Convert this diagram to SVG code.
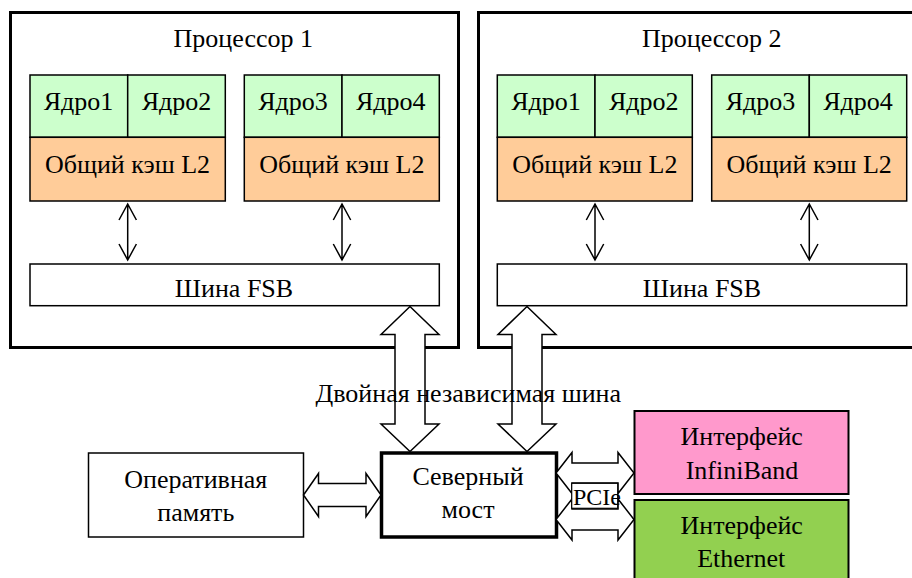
<svg xmlns="http://www.w3.org/2000/svg" width="912" height="578" viewBox="0 0 912 578">
<style>
text{font-family:"Liberation Serif","Times New Roman",serif;font-size:26px;fill:#000;text-anchor:middle}
.frame{fill:none;stroke:#000;stroke-width:3}
.core{fill:#CCFFCC;stroke:#000;stroke-width:1.5}
.cache{fill:#FFCC99;stroke:#000;stroke-width:1.5}
.box{fill:#fff;stroke:#000;stroke-width:1.5}
.big{fill:#fff;stroke:#000;stroke-width:1.5;stroke-linejoin:miter}
.thin{fill:none;stroke:#000;stroke-width:1.5}
</style>
<rect width="912" height="578" fill="#fff"/>
<g id="cpu1">
<rect class="frame" x="10.5" y="12.5" width="448" height="335"/>
<text x="243.3" y="47">Процессор 1</text>
</g>
<g id="cpu2">
<rect class="frame" x="478.5" y="12.5" width="450" height="335"/>
<text x="711.7" y="47">Процессор 2</text>
</g>
<g id="cpu1-core1"><rect class="core" x="30" y="75" width="97.7" height="62.3"/><text x="78.5" y="110">Ядро1</text></g>
<g id="cpu1-core2"><rect class="core" x="127.7" y="75" width="97.6" height="62.3"/><text x="176.5" y="110">Ядро2</text></g>
<g id="cpu1-cache1"><rect class="cache" x="30" y="137.3" width="195.3" height="63.7"/><text x="127.5" y="173">Общий кэш L2</text></g>
<g id="cpu1-core3"><rect class="core" x="244.3" y="75" width="97.7" height="62.3"/><text x="293" y="110">Ядро3</text></g>
<g id="cpu1-core4"><rect class="core" x="342" y="75" width="97.3" height="62.3"/><text x="390.7" y="110">Ядро4</text></g>
<g id="cpu1-cache2"><rect class="cache" x="244.3" y="137.3" width="195" height="63.7"/><text x="341.8" y="173">Общий кэш L2</text></g>
<g id="cpu1-fsb"><rect class="box" x="30" y="264" width="409.3" height="41.7"/><text x="234" y="296.5">Шина FSB</text></g>
<g id="cpu2-core1"><rect class="core" x="497.3" y="75" width="97.7" height="62.3"/><text x="546" y="110">Ядро1</text></g>
<g id="cpu2-core2"><rect class="core" x="595" y="75" width="97.3" height="62.3"/><text x="643.7" y="110">Ядро2</text></g>
<g id="cpu2-cache1"><rect class="cache" x="497.3" y="137.3" width="195" height="63.7"/><text x="594.8" y="173">Общий кэш L2</text></g>
<g id="cpu2-core3"><rect class="core" x="711.7" y="75" width="97.6" height="62.3"/><text x="760.5" y="110">Ядро3</text></g>
<g id="cpu2-core4"><rect class="core" x="809.3" y="75" width="97.4" height="62.3"/><text x="858" y="110">Ядро4</text></g>
<g id="cpu2-cache2"><rect class="cache" x="711.7" y="137.3" width="195" height="63.7"/><text x="809.2" y="173">Общий кэш L2</text></g>
<g id="cpu2-fsb"><rect class="box" x="497.3" y="264" width="409.4" height="41.7"/><text x="702" y="296.5">Шина FSB</text></g>
<g id="memory"><rect class="box" x="88.5" y="453" width="215" height="84"/><text x="195.8" y="488">Оперативная</text><text x="195.8" y="521">память</text></g>
<g id="northbridge"><rect x="381.5" y="453" width="175" height="84" fill="#fff" stroke="#000" stroke-width="3.5"/><text x="468" y="485">Северный</text><text x="468" y="518">мост</text></g>
<g id="infiniband"><rect x="634.5" y="411" width="214" height="83" fill="#FF99CC" stroke="#000" stroke-width="2"/><text x="741.7" y="445">Интерфейс</text><text x="742" y="478.5">InfiniBand</text></g>
<g id="ethernet"><rect x="634.5" y="500" width="214" height="90" fill="#92D050" stroke="#000" stroke-width="2"/><text x="741.7" y="533.5">Интерфейс</text><text x="741.2" y="567">Ethernet</text></g>
<g id="connectors">
<path class="thin" d="M127.7,204V260M119,220L127.7,204L136.4,220M119,244L127.7,260L136.4,244"/>
<path class="thin" d="M342,204V260M333.3,220L342,204L350.7,220M333.3,244L342,260L350.7,244"/>
<path class="thin" d="M595,204V260M586.3,220L595,204L603.7,220M586.3,244L595,260L603.7,244"/>
<path class="thin" d="M809.3,204V260M800.6,220L809.3,204L818,220M800.6,244L809.3,260L818,244"/>
<polygon class="big" points="410,306.5 439,334.5 425,334.5 425,424 439,424 410,451.5 381,424 395,424 395,334.5 381,334.5"/>
<polygon class="big" points="527,306.5 556,334.5 542,334.5 542,424 556,424 527,451.5 498,424 512,424 512,334.5 498,334.5"/>
<polygon class="big" points="303.5,495 318.5,473.5 318.5,483.5 366,483.5 366,473.5 381,495 366,516.5 366,506.5 318.5,506.5 318.5,516.5"/>
<polygon class="big" points="556,473 572,452.5 572,463 618,463 618,452.5 634,473 618,493.5 618,483 572,483 572,493.5"/>
<polygon class="big" points="556,519.5 572,499 572,509 618,509 618,499 634,519.5 618,540 618,530 572,530 572,540"/>
</g>
<g id="pcie-label"><rect x="571.7" y="483.3" width="46" height="25" fill="#fff" stroke="#000" stroke-width="1.2"/><text x="597" y="505" style="font-size:24px">PCIe</text></g>
<g id="bus-label"><text x="468.3" y="402">Двойная независимая шина</text></g>
</svg>
